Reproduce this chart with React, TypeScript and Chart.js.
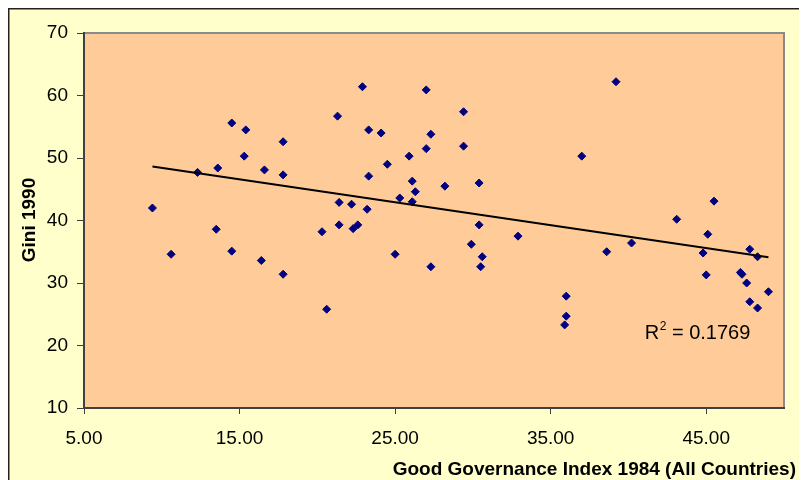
import React, { useEffect, useRef } from "react";
import { Chart, registerables } from "chart.js";

Chart.register(...registerables);

// Good Governance Index 1984 (x) and Gini 1990 (y)
const governance = [
  9.4, 10.6, 12.3, 13.6, 14.5, 15.4, 15.3, 16.6, 13.5, 14.5, 16.4, 17.8, 17.8, 17.8,
  22.9, 27.0, 21.3, 29.4, 23.3, 24.1, 27.3, 27.0, 29.4, 25.9, 24.5, 23.3, 26.1, 28.2,
  30.4, 26.3, 25.3, 26.1, 21.4, 22.2, 23.2, 21.4, 22.6, 22.3, 20.3, 30.4, 32.9, 29.9,
  30.6, 30.5, 25.0, 27.3, 20.6, 39.2, 37.0, 45.5, 43.1, 45.1, 40.2, 38.6, 44.8, 47.8,
  48.3, 45.0, 47.2, 47.3, 47.6, 49.0, 47.8, 48.3, 36.0, 36.0, 35.9,
];
const gini = [
  42.0, 34.6, 47.7, 48.4, 55.6, 54.5, 50.3, 48.1, 38.6, 35.1, 33.6, 52.6, 47.3, 31.4,
  61.4, 60.9, 56.7, 57.4, 54.5, 54.0, 53.8, 51.5, 51.9, 50.3, 49.0, 47.1, 46.3, 45.5,
  46.0, 44.6, 43.6, 43.0, 42.9, 42.6, 41.8, 39.3, 39.3, 38.7, 38.2, 39.3, 37.5, 36.2,
  34.2, 32.6, 34.6, 32.6, 25.8, 62.2, 50.3, 43.1, 40.2, 37.8, 36.4, 35.0, 34.8, 35.4,
  34.2, 31.3, 31.7, 31.4, 30.0, 28.6, 27.0, 26.0, 27.9, 24.7, 23.3,
];
const xTicks = [5, 15, 25, 35, 45];
const yTicks = [10, 20, 30, 40, 50, 60, 70];
const xTitle = "Good Governance Index 1984 (All Countries)";
const yTitle = "Gini 1990";
const r2Value = "0.1769";

const FONT = "'Liberation Sans', Arial, Helvetica, sans-serif";

function linearFit(xs: number[], ys: number[]) {
  const n = xs.length;
  let sx = 0, sy = 0, sxx = 0, sxy = 0;
  for (let i = 0; i < n; i++) {
    sx += xs[i]; sy += ys[i]; sxx += xs[i] * xs[i]; sxy += xs[i] * ys[i];
  }
  const b = (n * sxy - sx * sy) / (n * sxx - sx * sx);
  const a = (sy - b * sx) / n;
  return { a, b };
}

const decor = {
  id: "decor",
  beforeDraw(chart: any) {
    const { ctx, width, height, chartArea: a } = chart;
    ctx.save();
    ctx.fillStyle = "#FFFFCC";
    ctx.fillRect(0, 0, width, height);
    ctx.fillStyle = "#FFCC99";
    ctx.fillRect(a.left, a.top, a.right - a.left, a.bottom - a.top);
    ctx.fillStyle = "#222222";
    ctx.fillRect(0, 0, 1.5, height);
    ctx.fillRect(0, 0, width, 1.5);
    // plot border top & right
    ctx.strokeStyle = "#8a8a8a";
    ctx.lineWidth = 2;
    ctx.beginPath();
    ctx.moveTo(a.left, a.top);
    ctx.lineTo(a.right, a.top);
    ctx.lineTo(a.right, a.bottom);
    ctx.stroke();
    ctx.restore();
  },
  afterDraw(chart: any) {
    const { ctx, width, scales } = chart;
    ctx.save();
    ctx.fillStyle = "#000000";
    // x title
    ctx.font = `bold 19px ${FONT}`;
    ctx.textAlign = "right";
    ctx.textBaseline = "alphabetic";
    ctx.fillText(xTitle, width - 11, 467);
    // y title
    ctx.save();
    ctx.translate(27, 212);
    ctx.rotate(-Math.PI / 2);
    ctx.textAlign = "center";
    ctx.fillText(yTitle, 0, 0);
    ctx.restore();
    // R squared
    const px = scales.x.getPixelForValue(41.05);
    const py = scales.y.getPixelForValue(21.05);
    ctx.textAlign = "left";
    ctx.font = `20px ${FONT}`;
    ctx.fillText("R", px, py);
    const rw = ctx.measureText("R").width;
    ctx.font = `12px ${FONT}`;
    ctx.fillText("2", px + rw + 0.5, py - 9);
    const sw = ctx.measureText("2").width;
    ctx.font = `20px ${FONT}`;
    ctx.fillText(" = " + r2Value, px + rw + sw + 0.5, py);
    ctx.restore();
  },
};

export default function App() {
  const ref = useRef<HTMLCanvasElement | null>(null);
  useEffect(() => {
    if (!ref.current) return;
    const { a, b } = linearFit(governance, gini);
    const xmin = Math.min(...governance);
    const xmax = Math.max(...governance);
    const points = governance.map((x, i) => ({ x, y: gini[i] }));
    const chart = new Chart(ref.current, {
      type: "scatter",
      data: {
        datasets: [
          {
            type: "line",
            data: [
              { x: xmin, y: a + b * xmin },
              { x: xmax, y: a + b * xmax },
            ],
            borderColor: "#000000",
            borderWidth: 2,
            pointRadius: 0,
            fill: false,
          } as any,
          {
            type: "scatter",
            data: points,
            pointStyle: "rectRot",
            pointRadius: 4,
            borderWidth: 1,
            backgroundColor: "#000080",
            borderColor: "#000080",
          },
        ],
      },
      options: {
        responsive: false,
        animation: false,
        events: [],
        layout: { padding: { top: 25, right: 23, left: 0, bottom: 0 } },
        plugins: { legend: { display: false }, tooltip: { enabled: false } },
        scales: {
          x: {
            type: "linear",
            min: 5,
            max: 50,
            afterBuildTicks: (s: any) => {
              s.ticks = xTicks.map((v) => ({ value: v }));
            },
            afterFit: (s: any) => {
              s.height = 72;
            },
            ticks: {
              autoSkip: false,
              maxRotation: 0,
              padding: 13,
              color: "#000000",
              font: { family: FONT, size: 19 },
              callback: (v: any) => Number(v).toFixed(2),
            },
            grid: {
              drawOnChartArea: false,
              drawTicks: true,
              tickLength: 6,
              color: "#404040",
              lineWidth: 1,
            },
            border: { display: true, color: "#404040", width: 2 },
          },
          y: {
            type: "linear",
            min: 10,
            max: 70,
            afterBuildTicks: (s: any) => {
              s.ticks = yTicks.map((v) => ({ value: v }));
            },
            afterFit: (s: any) => {
              s.width = 76;
            },
            ticks: {
              padding: 9,
              color: "#000000",
              font: { family: FONT, size: 19 },
            },
            grid: {
              drawOnChartArea: false,
              drawTicks: true,
              tickLength: 7,
              color: "#404040",
              lineWidth: 1,
            },
            border: { display: true, color: "#404040", width: 2 },
          },
        },
      },
      plugins: [decor],
    });
    return () => chart.destroy();
  }, []);
  return (
    <canvas
      ref={ref}
      width={799}
      height={472}
      style={{ display: "block", width: 799, height: 472 }}
    />
  );
}
